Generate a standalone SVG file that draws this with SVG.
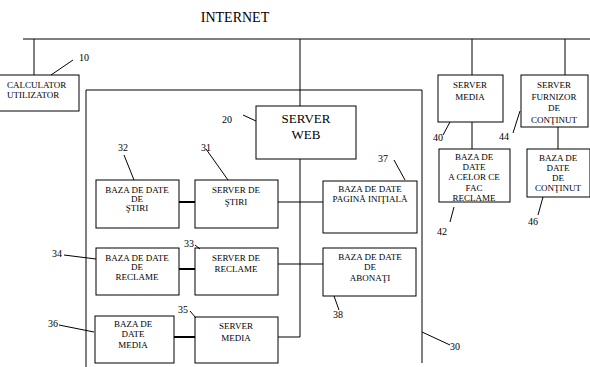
<svg xmlns="http://www.w3.org/2000/svg" width="590" height="367" viewBox="0 0 590 367">
<style>
.b{fill:#fff;stroke:#000;stroke-width:1}
.l{fill:none;stroke:#000;stroke-width:1}
.tk{fill:none;stroke:#000;stroke-width:2}
text{font-family:'Liberation Serif','DejaVu Serif',serif;fill:#000;text-anchor:middle}
.s{font-size:9px}
.n{font-size:10px;text-anchor:start}
</style>
<rect width="590" height="367" fill="#fff"/>
<text x="235" y="22" font-size="14">INTERNET</text>
<g id="connectors">
<line class="l" x1="23" y1="39" x2="590" y2="39"/>
<line class="l" x1="34" y1="39" x2="34" y2="75"/>
<line class="l" x1="300" y1="39" x2="300" y2="106"/>
<line class="l" x1="300" y1="159" x2="300" y2="337"/>
<line class="l" x1="278" y1="202" x2="323" y2="202"/>
<line class="l" x1="278" y1="264" x2="323" y2="264"/>
<line class="l" x1="278" y1="337" x2="300" y2="337"/>
<line class="tk" x1="179" y1="202" x2="195" y2="202"/>
<line class="tk" x1="179" y1="269" x2="195" y2="269"/>
<line class="tk" x1="174" y1="337" x2="195" y2="337"/>
<line class="l" x1="472" y1="39" x2="472" y2="75"/>
<line class="l" x1="472" y1="122" x2="472" y2="149"/>
<line class="l" x1="565" y1="39" x2="565" y2="75"/>
<line class="l" x1="558" y1="127" x2="558" y2="149"/>
</g>
<g id="n30">
<polyline class="l" points="86,367 86,90 422,90 422,363"/>
<line class="l" x1="422" y1="332" x2="450" y2="345"/>
<text class="n" x="450" y="350">30</text>
</g>
<g id="n10">
<rect class="b" x="-1" y="75" width="80" height="36"/>
<text class="s" x="7" y="88" style="text-anchor:start">CALCULATOR</text>
<text class="s" x="7" y="98" style="text-anchor:start">UTILIZATOR</text>
<line class="l" x1="51" y1="75" x2="73" y2="60"/>
<text class="n" x="79" y="61">10</text>
</g>
<g id="n20">
<rect class="b" x="256" y="106" width="100" height="53"/>
<text x="306" y="123" font-size="13">SERVER</text>
<text x="306" y="139" font-size="13">WEB</text>
<line class="l" x1="243" y1="115" x2="256" y2="121"/>
<text class="n" x="222" y="123">20</text>
</g>
<g id="n32">
<rect class="b" x="96" y="180" width="83" height="48"/>
<text class="s" x="137" y="193">BAZA DE DATE</text>
<text class="s" x="137" y="202">DE</text>
<text class="s" x="137" y="211">ŞTIRI</text>
<line class="l" x1="124" y1="155" x2="134" y2="180"/>
<text class="n" x="118" y="151">32</text>
</g>
<g id="n31">
<rect class="b" x="195" y="180" width="83" height="48"/>
<text class="s" x="236" y="193">SERVER DE</text>
<text class="s" x="236" y="205">ŞTIRI</text>
<line class="l" x1="206" y1="149" x2="228" y2="180"/>
<text class="n" x="201" y="151">31</text>
</g>
<g id="n37">
<rect class="b" x="323" y="181" width="94" height="52"/>
<text class="s" x="370" y="192">BAZA DE DATE</text>
<text class="s" x="370" y="202">PAGINĂ INIŢIALĂ</text>
<line class="l" x1="394" y1="160" x2="405" y2="180"/>
<text class="n" x="378" y="162">37</text>
</g>
<g id="n34">
<rect class="b" x="96" y="248" width="83" height="47"/>
<text class="s" x="137" y="261">BAZA DE DATE</text>
<text class="s" x="137" y="270">DE</text>
<text class="s" x="137" y="280">RECLAME</text>
<line class="l" x1="64" y1="255" x2="96" y2="259"/>
<text class="n" x="52" y="257">34</text>
</g>
<g id="n33">
<rect class="b" x="195" y="248" width="83" height="47"/>
<text class="s" x="236" y="261">SERVER DE</text>
<text class="s" x="236" y="272">RECLAME</text>
<line class="l" x1="195" y1="245" x2="200" y2="249"/>
<text class="n" x="184" y="247">33</text>
</g>
<g id="n38">
<rect class="b" x="323" y="248" width="93" height="48"/>
<text class="s" x="370" y="260">BAZA DE DATE</text>
<text class="s" x="370" y="270">DE</text>
<text class="s" x="370" y="281">ABONAŢI</text>
<line class="l" x1="334" y1="296" x2="339" y2="310"/>
<text class="n" x="333" y="318">38</text>
</g>
<g id="n36">
<rect class="b" x="95" y="316" width="79" height="47"/>
<text class="s" x="133" y="327">BAZA DE</text>
<text class="s" x="133" y="337">DATE</text>
<text class="s" x="133" y="348">MEDIA</text>
<line class="l" x1="59" y1="325" x2="94" y2="332"/>
<text class="n" x="48" y="327">36</text>
</g>
<g id="n35">
<rect class="b" x="195" y="317" width="83" height="46"/>
<text class="s" x="236" y="329">SERVER</text>
<text class="s" x="236" y="341">MEDIA</text>
<line class="l" x1="190" y1="311" x2="196" y2="318"/>
<text class="n" x="178" y="313">35</text>
</g>
<g id="n40">
<rect class="b" x="438" y="75" width="65" height="47"/>
<text class="s" x="470" y="88">SERVER</text>
<text class="s" x="470" y="100">MEDIA</text>
<line class="l" x1="443" y1="135" x2="450" y2="122"/>
<text class="n" x="433" y="141">40</text>
</g>
<g id="n42">
<rect class="b" x="439" y="149" width="71" height="53"/>
<text class="s" x="474" y="160">BAZA DE</text>
<text class="s" x="474" y="170">DATE</text>
<text class="s" x="474" y="180">A CELOR CE</text>
<text class="s" x="474" y="191">FAC</text>
<text class="s" x="474" y="201">RECLAME</text>
<line class="l" x1="454" y1="207" x2="450" y2="222"/>
<text class="n" x="437" y="235">42</text>
</g>
<g id="n44">
<rect class="b" x="521" y="75" width="67" height="52"/>
<text class="s" x="554" y="88">SERVER</text>
<text class="s" x="554" y="100">FURNIZOR</text>
<text class="s" x="554" y="111">DE</text>
<text class="s" x="554" y="123">CONŢINUT</text>
<line class="l" x1="513" y1="133" x2="520" y2="111"/>
<text class="n" x="499" y="140">44</text>
</g>
<g id="n46">
<rect class="b" x="527" y="149" width="63" height="48"/>
<text class="s" x="558" y="161">BAZA DE</text>
<text class="s" x="558" y="171">DATE</text>
<text class="s" x="558" y="181">DE</text>
<text class="s" x="558" y="191">CONŢINUT</text>
<line class="l" x1="543" y1="197" x2="538" y2="215"/>
<text class="n" x="528" y="225">46</text>
</g>
</svg>
